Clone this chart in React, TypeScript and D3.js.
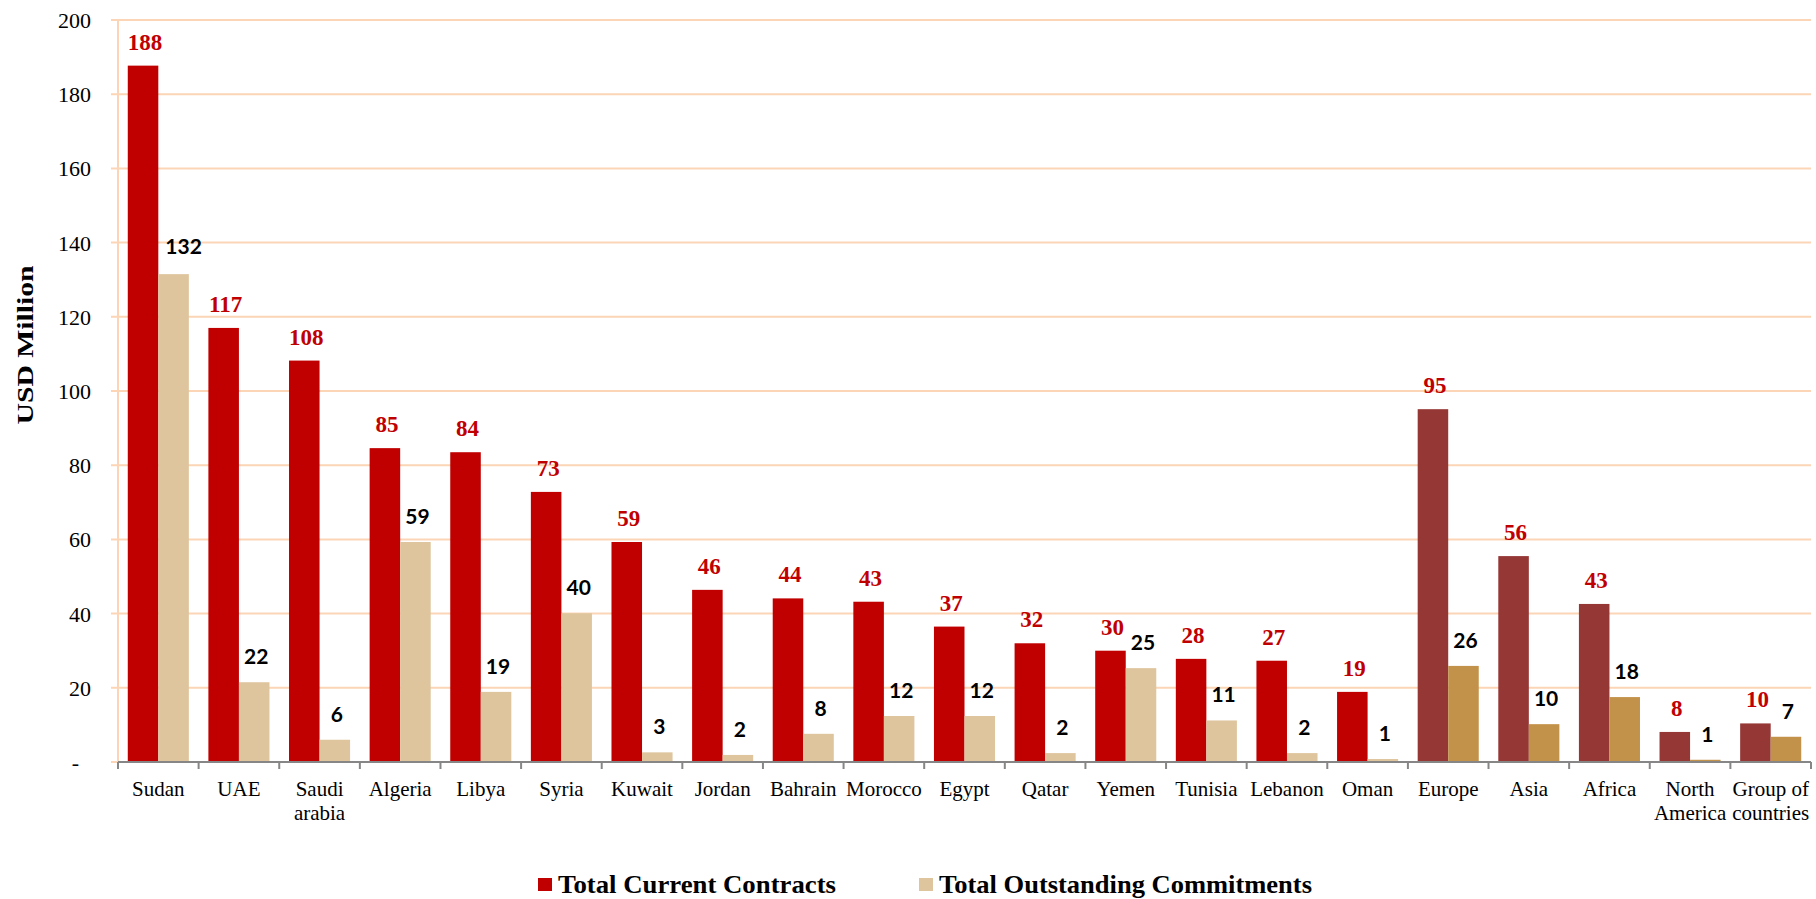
import React from "react";
import * as d3 from "d3";

const categories = [
  "Sudan", "UAE", "Saudi\narabia", "Algeria", "Libya", "Syria", "Kuwait", "Jordan",
  "Bahrain", "Morocco", "Egypt", "Qatar", "Yemen", "Tunisia", "Lebanon", "Oman",
  "Europe", "Asia", "Africa", "North\nAmerica", "Group of\ncountries",
];
const currentContracts = [
  187.7, 117.0, 108.2, 84.6, 83.5, 72.8, 59.3, 46.4, 44.1, 43.2, 36.5, 32.0, 30.0, 27.8,
  27.3, 18.9, 95.1, 55.5, 42.6, 8.1, 10.4,
];
const outstandingCommitments = [
  131.5, 21.5, 6.0, 59.3, 18.9, 40.1, 2.6, 1.9, 7.6, 12.4, 12.4, 2.4, 25.3, 11.2, 2.4,
  0.8, 25.9, 10.2, 17.5, 0.6, 6.8,
];
const isRegion = categories.map((_, i) => i >= 16);
const yTicks = [0, 20, 40, 60, 80, 100, 120, 140, 160, 180, 200];
const seriesNames = ["Total Current Contracts", "Total Outstanding Commitments"];

const W = 1816;
const H = 899;
const left = 118;
const right = 1811;
const top = 20;
const bottom = 762;

const C_RED = "#C00000";
const C_TAN = "#DFC59D";
const C_DRED = "#953735";
const C_GOLD = "#C3924A";
const C_GRID = "#FBD5B5";
const SERIF = "'Liberation Serif', 'Times New Roman', Times, serif";
const SANS = "Lato, 'Open Sans', sans-serif";

export default function App() {
  const x = d3.scaleBand<string>().domain(categories).range([left, right]).padding(0);
  const y = d3.scaleLinear().domain([0, 200]).range([bottom, top]);
  const band = x.bandwidth();
  const gap = 0.64;
  const bw = band / (2 + gap);
  const off = (gap * bw) / 2;

  return (
    <div style={{ position: "absolute", left: 0, top: 0 }}>
      <svg width={W} height={H} style={{ display: "block", background: "#fff" }}>
        {yTicks.filter((t) => t > 0).map((t) => (
          <line key={t} x1={left - 7} x2={right} y1={y(t)} y2={y(t)} stroke={C_GRID} strokeWidth={2} />
        ))}
        <line x1={left - 7} x2={left} y1={y(0)} y2={y(0)} stroke={C_GRID} strokeWidth={2} />
        <line x1={left} x2={left} y1={y(200)} y2={y(0)} stroke={C_GRID} strokeWidth={2} />
        {yTicks.map((t) => (
          <text
            key={t}
            x={t === 0 ? 79 : 91}
            y={y(t)}
            dy="0.36em"
            textAnchor="end"
            fontFamily={SERIF}
            fontSize={22}
            fill="#000"
          >
            {t === 0 ? "-" : t}
          </text>
        ))}
        <text
          transform={`translate(33,345) rotate(-90)`}
          textAnchor="middle"
          fontFamily={SERIF}
          fontWeight="bold"
          fontSize={23}
          textLength={159}
          lengthAdjust="spacingAndGlyphs"
        >
          USD Million
        </text>
        {categories.map((c, i) => {
          const x0 = (x(c) as number) + off;
          const v1 = currentContracts[i];
          const v2 = outstandingCommitments[i];
          const c1 = isRegion[i] ? C_DRED : C_RED;
          const c2 = isRegion[i] ? C_GOLD : C_TAN;
          return (
            <g key={c}>
              <rect x={x0} y={y(v1)} width={bw} height={y(0) - y(v1)} fill={c1} />
              <rect x={x0 + bw} y={y(v2)} width={bw} height={y(0) - y(v2)} fill={c2} />
            </g>
          );
        })}
        <line x1={left} x2={right} y1={y(0)} y2={y(0)} stroke="#868686" strokeWidth={2} />
        {[...categories.map((c) => x(c) as number), right].map((px, i) => (
          <line key={i} x1={px} x2={px} y1={y(0)} y2={y(0) + 7} stroke="#868686" strokeWidth={2} />
        ))}
        {categories.map((c) => {
          const cx = (x(c) as number) + band / 2;
          return (
            <text key={c} textAnchor="middle" fontFamily={SERIF} fontSize={21} fill="#000">
              {c.split("\n").map((line, j) => (
                <tspan key={j} x={cx} y={796 + j * 24}>
                  {line}
                </tspan>
              ))}
            </text>
          );
        })}
        {categories.map((c, i) => {
          const x0 = (x(c) as number) + off;
          const v1 = currentContracts[i];
          const v2 = outstandingCommitments[i];
          const sx = i === 0 ? 8 : 0;
          const sy = i === 0 ? 2 : 0;
          return (
            <g key={"l" + c}>
              <text
                x={x0 + bw / 2 + 2}
                y={y(v1) - 16}
                textAnchor="middle"
                fontFamily={SERIF}
                fontWeight="bold"
                fontSize={23}
                fill={C_RED}
              >
                {Math.round(v1)}
              </text>
              <text
                x={x0 + bw * 1.5 + 2 + sx}
                y={y(v2) - 18 - sy}
                textAnchor="middle"
                fontFamily={SANS}
                fontWeight="bold"
                fontSize={21}
                fill="#000"
              >
                {Math.round(v2)}
              </text>
            </g>
          );
        })}
        <rect x={538} y={878} width={14} height={13} fill={C_RED} />
        <text x={558} y={893} fontFamily={SERIF} fontWeight="bold" fontSize={26} textLength={278} lengthAdjust="spacingAndGlyphs">
          {seriesNames[0]}
        </text>
        <rect x={919} y={878} width={14} height={13} fill={C_TAN} />
        <text x={939} y={893} fontFamily={SERIF} fontWeight="bold" fontSize={26} textLength={373} lengthAdjust="spacingAndGlyphs">
          {seriesNames[1]}
        </text>
      </svg>
    </div>
  );
}
